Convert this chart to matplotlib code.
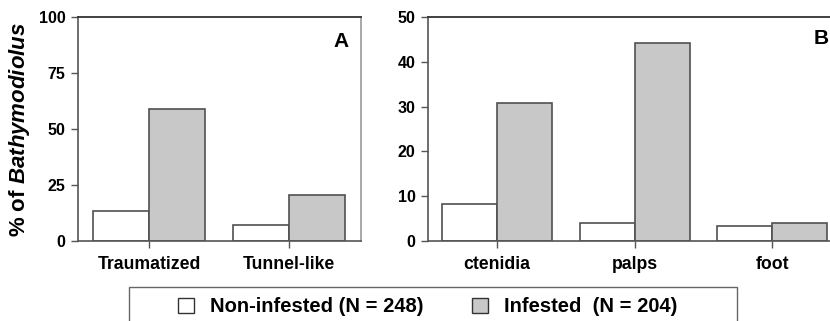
import matplotlib
matplotlib.use('Agg')
import matplotlib.pyplot as plt
from matplotlib.patches import Patch, Rectangle
import numpy as np

# Data
cats_a = ['Traumatized', 'Tunnel-like']
non_a = [13.2, 7.2]
inf_a = [59.0, 20.4]

cats_b = ['ctenidia', 'palps', 'foot']
non_b = [8.3, 4.0, 3.3]
inf_b = [30.7, 44.2, 4.0]

labels = ['Non-infested (N = 248)', 'Infested  (N = 204)']

plt.rcParams['font.family'] = 'Liberation Sans'
plt.rcParams['font.weight'] = 'bold'
plt.rcParams['mathtext.fontset'] = 'custom'
plt.rcParams['mathtext.it'] = 'Liberation Sans:italic:bold'
plt.rcParams['mathtext.rm'] = 'Liberation Sans:bold'

W, H = 830, 321
fig = plt.figure(figsize=(W / 100, H / 100), dpi=100)

edge = '#505050'
grey = '#c8c8c8'
w = 0.4


def panel(ax, cats, non, inf, ymax, yticks, letter, lx, ly):
    x = np.arange(len(cats))
    ax.bar(x - w, non, w, align='edge', color='white', edgecolor=edge, linewidth=1.2, zorder=2)
    ax.bar(x, inf, w, align='edge', color=grey, edgecolor=edge, linewidth=1.2, zorder=2)
    ax.set_ylim(0, ymax)
    ax.set_yticks(yticks)
    ax.set_xticks(x)
    ax.set_xticklabels(cats, fontsize=12.7, fontweight='bold')
    ax.tick_params(axis='y', direction='out', length=5, width=1, color='#555555',
                   labelsize=11.5, pad=4)
    ax.tick_params(axis='x', direction='out', length=5, width=1, color='#555555', pad=6)
    for t in ax.get_yticklabels():
        t.set_fontweight('bold')
    for s in ['left', 'bottom']:
        ax.spines[s].set_color('#555555')
        ax.spines[s].set_linewidth(1.2)
    ax.spines['top'].set_color('#333333')
    ax.spines['top'].set_linewidth(1.3)
    ax.spines['right'].set_color('#999999')
    ax.spines['right'].set_linewidth(1.2)
    ax.text(lx, ly, letter, transform=ax.transAxes, fontsize=15, fontweight='bold',
            ha='center', va='center')


# panel A
ax1 = fig.add_axes([78 / W, 80 / H, 283 / W, 224 / H])
panel(ax1, cats_a, non_a, inf_a, 100, [0, 25, 50, 75, 100], 'A', 0.93, 0.89)
ax1.set_xlim(-0.507, 1.514)
ax1.set_ylabel('% of $\\mathit{Bathymodiolus}$', fontsize=16, fontweight='bold', labelpad=5)

# panel B
ax2 = fig.add_axes([428 / W, 80 / H, 402 / W, 224 / H])
panel(ax2, cats_b, non_b, inf_b, 50, [0, 10, 20, 30, 40, 50], 'B', 0.978, 0.906)
ax2.set_xlim(-0.502, 2.42)
ax2.spines['right'].set_visible(False)

# legend box (bottom edge cut off by the figure)
fig.patches.append(Rectangle((129 / W, -0.05), (737 - 129) / W, (321 - 287) / H + 0.05,
                             transform=fig.transFigure, facecolor='white',
                             edgecolor='#666666', linewidth=1.0))
handles = [Patch(facecolor='white', edgecolor='#333333', linewidth=1.0),
           Patch(facecolor=grey, edgecolor='#333333', linewidth=1.0)]
fig.legend(handles, labels, loc='center', bbox_to_anchor=(428 / W, 1 - 307 / H),
           ncol=2, frameon=False, handlelength=0.8, handleheight=0.8,
           handletextpad=0.8, columnspacing=2.4,
           prop={'weight': 'bold', 'size': 14.5})

fig.savefig('out.png', dpi=100)
